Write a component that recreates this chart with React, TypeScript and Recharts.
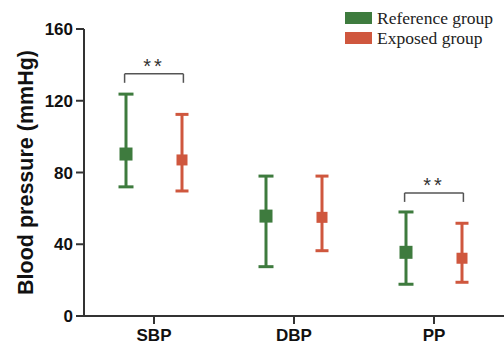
import {
  ComposedChart,
  ErrorBar,
  Label,
  ReferenceDot,
  ReferenceLine,
  Scatter,
  XAxis,
  YAxis,
} from "recharts";

const categories = ["SBP", "DBP", "PP"];
const yTicks = [0, 40, 80, 120, 160];

const refMean = [90.3, 55.7, 35.5];
const refLow = [72, 27.5, 17.7];
const refHigh = [123.7, 78, 58];

const expMean = [87, 55, 32.2];
const expLow = [69.7, 36.4, 18.8];
const expHigh = [112.4, 78, 51.7];

const sigCats = [0, 2];
const sigLevels = [135, 68.6];

const GREEN = "#3e7b3e";
const RED = "#cf573e";
const AXIS = "#333";

const OFFSET = 0.2;

const buildSeries = (mean: number[], low: number[], high: number[], shift: number) =>
  mean.map((m, i) => ({
    x: i + 0.5 + shift,
    y: m,
    err: [m - low[i], high[i] - m],
  }));

const refData = buildSeries(refMean, refLow, refHigh, -OFFSET);
const expData = buildSeries(expMean, expLow, expHigh, OFFSET);

const square = (size: number, color: string) => (props: any) => {
  const { cx, cy } = props;
  return <rect x={cx - size / 2} y={cy - size / 2} width={size} height={size} fill={color} />;
};

const LegendBox = () => (
  <div
    style={{
      position: "absolute",
      top: 8,
      left: 345,
      fontFamily: "'Liberation Serif', serif",
      fontSize: 17.5,
      color: "#222",
    }}
  >
    {[
      { label: "Reference group", color: GREEN },
      { label: "Exposed group", color: RED },
    ].map((d) => (
      <div key={d.label} style={{ display: "flex", alignItems: "center", height: 20 }}>
        <span style={{ width: 27, height: 12, background: d.color, marginRight: 5, display: "inline-block" }} />
        {d.label}
      </div>
    ))}
  </div>
);

export default function App() {
  const tickStyle = { fontFamily: "'Liberation Sans', Arial, sans-serif", fontWeight: 700, fontSize: 17, fill: "#111" };
  return (
    <div style={{ position: "absolute", left: 0, top: 0, width: 504, height: 346, background: "#fff" }}>
      <ComposedChart width={504} height={346} margin={{ top: 29, right: 0, left: 0, bottom: 0 }}>
        <XAxis
          type="number"
          dataKey="x"
          domain={[0, 3]}
          ticks={[0.5, 1.5, 2.5]}
          tickFormatter={(v: number) => categories[Math.floor(v)]}
          height={30}
          axisLine={{ stroke: AXIS, strokeWidth: 2 }}
          tickLine={{ stroke: AXIS, strokeWidth: 2 }}
          tickSize={8}
          tickMargin={5}
          tick={tickStyle}
          allowDataOverflow
        />
        <YAxis
          type="number"
          dataKey="y"
          domain={[0, 160]}
          ticks={yTicks}
          width={84}
          axisLine={{ stroke: AXIS, strokeWidth: 2 }}
          tickLine={{ stroke: AXIS, strokeWidth: 2 }}
          tickSize={8}
          tickMargin={3}
          tick={tickStyle}
          allowDataOverflow
        >
          <Label
            value="Blood pressure (mmHg)"
            angle={-90}
            position="center"
            dx={-17}
            style={{ fontFamily: "'Liberation Sans', Arial, sans-serif", fontWeight: 700, fontSize: 21.5, fill: "#111" }}
          />
        </YAxis>
        <Scatter name="Reference group" data={refData} dataKey="y" fill={GREEN} shape={square(13, GREEN)} isAnimationActive={false}>
          <ErrorBar dataKey="err" direction="y" width={7.5} stroke={GREEN} strokeWidth={3} />
        </Scatter>
        <Scatter name="Exposed group" data={expData} dataKey="y" fill={RED} shape={square(11, RED)} isAnimationActive={false}>
          <ErrorBar dataKey="err" direction="y" width={6.5} stroke={RED} strokeWidth={3} />
        </Scatter>
        {sigCats.map((c, i) => {
          const lx = c + 0.5 - OFFSET - 0.01;
          const rx = c + 0.5 + OFFSET + 0.01;
          const top = sigLevels[i];
          const leg = top - 5;
          return [
            <ReferenceLine key={`h${i}`} segment={[{ x: lx, y: top }, { x: rx, y: top }]} stroke="#555" strokeWidth={1.5} />,
            <ReferenceLine key={`l${i}`} segment={[{ x: lx, y: top }, { x: lx, y: leg }]} stroke="#555" strokeWidth={1.5} />,
            <ReferenceLine key={`r${i}`} segment={[{ x: rx, y: top }, { x: rx, y: leg }]} stroke="#555" strokeWidth={1.5} />,
            <ReferenceDot key={`d${i}`} x={c + 0.5} y={top} r={0} stroke="none" fill="none">
              <Label
                value="**"
                position="top"
                offset={1}
                style={{ fontFamily: "'Liberation Sans', Arial, sans-serif", fontSize: 20, fill: "#333", letterSpacing: 3 }}
              />
            </ReferenceDot>,
          ];
        })}
      </ComposedChart>
      <LegendBox />
    </div>
  );
}
